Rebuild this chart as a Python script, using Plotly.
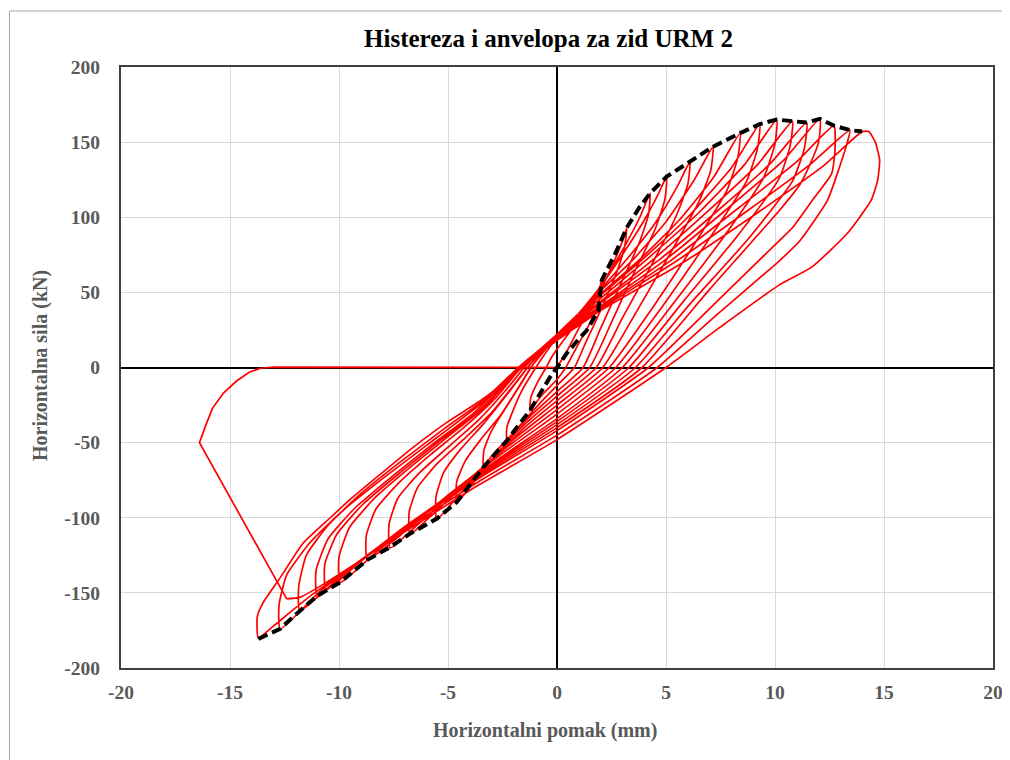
import plotly.graph_objects as go

# ---------------- data ----------------
x_ticks = [-20, -15, -10, -5, 0, 5, 10, 15, 20]
y_ticks = [-200, -150, -100, -50, 0, 50, 100, 150, 200]

# hysteresis cycles (displacement mm, force kN)
c01_x = [0.0, 0.5, 1.0, 1.5, 1.9, 2.05, 2.0, 1.6, 1.0, 0.4, 0.0, -0.6, -1.0, -1.24, -1.2, -0.9, -0.5, -0.2]
c01_y = [0, 12, 26, 38, 50, 58, 48, 32, 16, 0, -8, -17, -24, -29, -20, -10, 0, 8]

c02_x = [0.5, 1.2, 2.0, 2.6, 3.0, 3.2, 3.1, 2.7, 2.0, 1.3, 0.8, 0.0, -0.8, -1.6, -2.1, -2.3, -2.3, -2.0, -1.6, -1.1, -0.7]
c02_y = [22, 35, 52, 70, 84, 93, 80, 62, 38, 16, 0, -12, -24, -37, -45, -49, -40, -28, -15, -3, 6]

c03_x = [0.0, 1.0, 2.0, 3.0, 3.8, 4.27, 4.2, 3.8, 3.0, 2.0, 1.2, 0.0, -1.2, -2.3, -3.0, -3.38, -3.35, -3.0, -2.4, -1.7, -1.1, -0.7]
c03_y = [20, 36, 54, 78, 100, 116, 102, 84, 58, 26, 0, -16, -32, -48, -59, -66, -55, -42, -28, -12, 2, 9]

c04_x = [0.0, 1.0, 2.0, 3.0, 4.0, 4.6, 5.03, 4.95, 4.5, 3.5, 2.5, 1.5, 0.0, -1.5, -2.8, -3.8, -4.6, -4.6, -4.2, -3.5, -2.6, -1.8, -1.2, -0.7]
c04_y = [21, 36, 54, 75, 98, 114, 127, 112, 92, 62, 30, 0, -19, -38, -58, -76, -90, -76, -62, -48, -32, -14, 0, 9]

c05_x = [0.0, 1.0, 2.0, 3.2, 4.5, 5.5, 6.1, 6.0, 5.5, 4.4, 3.0, 1.8, 0.0, -1.5, -3.0, -4.5, -5.52, -5.55, -5.2, -4.4, -3.4, -2.4, -1.5, -0.9]
c05_y = [21, 36, 52, 72, 96, 120, 137, 122, 102, 70, 33, 0, -22, -40, -62, -85, -101, -86, -70, -54, -38, -20, -3, 8]

c06_x = [0.0, 1.0, 2.0, 3.5, 5.0, 6.3, 7.16, 7.05, 6.5, 5.2, 3.6, 2.1, 0.0, -2.0, -4.0, -5.8, -6.74, -6.78, -6.4, -5.5, -4.3, -3.0, -2.0, -1.3, -0.8]
c06_y = [22, 36, 51, 72, 97, 125, 147, 131, 110, 76, 36, 0, -25, -48, -75, -99, -111, -96, -80, -64, -48, -30, -12, 1, 9]

c07_x = [0.0, 1.0, 2.0, 3.8, 5.6, 7.2, 8.4, 8.3, 7.8, 6.3, 4.3, 2.4, 0.0, -2.2, -4.5, -6.5, -7.66, -7.7, -7.3, -6.3, -5.0, -3.6, -2.4, -1.5, -0.9]
c07_y = [22, 35, 49, 72, 98, 127, 156, 140, 118, 82, 38, 0, -28, -52, -80, -106, -120, -104, -87, -70, -53, -35, -16, 0, 9]

c08_x = [0.0, 1.0, 2.0, 4.0, 6.0, 8.0, 9.3, 9.2, 8.7, 7.0, 4.8, 2.7, 0.0, -2.4, -5.0, -7.3, -8.7, -8.75, -8.3, -7.2, -5.8, -4.2, -2.8, -1.7, -1.0]
c08_y = [22, 35, 48, 73, 100, 133, 162, 146, 124, 86, 40, 0, -31, -56, -85, -113, -128, -112, -94, -76, -58, -39, -20, -1, 9]

c09_x = [0.0, 1.0, 2.0, 4.2, 6.5, 8.6, 10.08, 10.0, 9.5, 7.7, 5.3, 3.0, 0.0, -2.6, -5.5, -8.3, -9.95, -10.0, -9.5, -8.3, -6.7, -5.0, -3.3, -2.0, -1.1]
c09_y = [22, 34, 46, 73, 103, 135, 165, 149, 127, 88, 42, 0, -34, -60, -91, -123, -143, -126, -106, -86, -66, -46, -26, -5, 8]

c10_x = [0.0, 1.0, 2.0, 4.5, 7.0, 9.2, 10.8, 10.7, 10.2, 8.3, 5.8, 3.3, 0.0, -2.8, -6.0, -9.0, -10.6, -10.65, -10.1, -8.9, -7.2, -5.4, -3.6, -2.1, -1.2]
c10_y = [21, 33, 44, 73, 105, 135, 164, 148, 126, 88, 44, 0, -36, -63, -96, -129, -148, -131, -111, -91, -70, -49, -29, -7, 7]

c11_x = [0.0, 1.0, 2.0, 4.8, 7.5, 9.8, 11.45, 11.35, 10.8, 8.8, 6.2, 3.6, 0.0, -3.0, -6.3, -9.4, -11.0, -11.05, -10.5, -9.3, -7.6, -5.7, -3.8, -2.2, -1.2]
c11_y = [21, 32, 43, 73, 106, 136, 163, 146, 124, 86, 44, 0, -38, -66, -99, -133, -152, -135, -114, -94, -73, -51, -30, -7, 7]

c12_x = [0.0, 1.0, 2.0, 5.0, 8.0, 10.4, 12.06, 12.0, 11.6, 11.15, 10.2, 7.0, 3.9, 0.0, -3.2, -6.8, -10.0, -11.8, -11.85, -11.5, -10.5, -9.0, -7.2, -5.2, -3.3, -2.0, -1.2]
c12_y = [20, 31, 41, 72, 108, 138, 165.5, 150, 135, 122, 104.5, 52, 0, -40, -69, -104, -140, -162, -146, -125, -105, -84, -63, -41, -21, -3, 7]

c13_x = [0.0, 1.0, 2.0, 5.2, 8.4, 11.0, 12.7, 12.75, 12.6, 11.7, 10.8, 10.2, 7.2, 4.2, 0.0, -3.4, -7.2, -10.8, -12.7, -12.75, -12.4, -11.3, -9.8, -8.0, -6.0, -4.0, -2.4, -1.4]
c13_y = [19, 30, 40, 71, 107, 137, 161, 144, 129, 111, 93, 84.5, 42, 0, -42, -72, -109, -148, -174, -158, -138, -116, -95, -74, -52, -30, -11, 4]

c14_x = [0.0, 1.0, 2.0, 5.5, 8.8, 11.6, 13.44, 13.3, 12.95, 12.4, 11.15, 10.2, 7.4, 4.6, 0.0, -3.6, -7.6, -11.4, -13.0, -13.7, -13.75, -13.5, -12.7, -11.65, -10.4, -9.5, -8.1, -6.5, -5.0, -3.5, -2.0, -1.2]
c14_y = [19, 29, 39, 71, 105, 135, 158, 149, 133, 111, 84.5, 71, 36, 0, -45, -76, -114, -153, -172, -180, -166, -157, -140, -117, -100, -88, -71, -52, -36, -22, -5, 5]

c15_x = [0.0, 1.0, 2.0, 5.8, 9.2, 12.2, 14.0, 14.3, 14.6, 14.8, 14.7, 14.4, 13.3, 11.7, 10.2, 7.5, 5.0, 0.0, -3.8, -7.8, -10.8, -11.8, -12.4]
c15_y = [18, 28, 38, 70, 103, 134, 157, 157, 150, 138, 124, 111, 89, 67, 55, 27, 0, -48, -80, -117, -145, -153, -154]

# final failure / unloading branch
fail_x = [-12.4, -16.4, -16.1, -15.8, -15.3, -14.7, -14.1, -13.6, -13.0, -6.0, 0.0]
fail_y = [-154, -50, -38, -27, -17, -9, -3, -0.5, 0.3, 0.3, 0.0]

# envelope (anvelopa)
env_x = [-13.7, -12.7, -11.8, -11.0, -9.95, -8.7, -7.66, -6.74, -5.52, -4.6, -3.38, -2.3, -1.24,
         -0.78, -0.32, 0.0, 0.44, 1.06, 1.36, 1.9, 2.05, 2.74, 3.2, 3.8, 4.27, 5.03, 6.1, 7.16,
         8.4, 9.3, 10.08, 10.8, 11.45, 12.06, 12.7, 13.44, 14.0]
env_y = [-180.6, -174, -162, -152, -143, -128, -119.6, -110.6, -100.7, -89.6, -66.4, -48.6, -28.6,
         -17.5, -6.4, 0, 9.3, 20, 24.6, 38, 58, 78, 93, 107, 116, 127, 137, 147,
         156, 162, 165, 164, 163, 165.5, 161, 158, 157]

# ---------------- figure ----------------
cycles_x = [c01_x, c02_x, c03_x, c04_x, c05_x, c06_x, c07_x, c08_x, c09_x, c10_x, c11_x, c12_x, c13_x, c14_x, c15_x]
cycles_y = [c01_y, c02_y, c03_y, c04_y, c05_y, c06_y, c07_y, c08_y, c09_y, c10_y, c11_y, c12_y, c13_y, c14_y, c15_y]
hx, hy = [], []
for cx, cy in zip(cycles_x, cycles_y):
    hx += cx
    hy += cy

SERIF = "Liberation Serif, Times New Roman, serif"
RED = "#ff0000"

fig = go.Figure()
fig.add_trace(go.Scatter(x=hx, y=hy, mode="lines",
                         line=dict(color=RED, width=1.7, shape="spline", smoothing=0.5),
                         hoverinfo="skip", showlegend=False))
fig.add_trace(go.Scatter(x=fail_x, y=fail_y, mode="lines",
                         line=dict(color=RED, width=1.7),
                         hoverinfo="skip", showlegend=False))
fig.add_trace(go.Scatter(x=env_x, y=env_y, mode="lines",
                         line=dict(color="black", width=4, dash="10px,5px"),
                         hoverinfo="skip", showlegend=False))

# page body has an 8px margin: work in screen pixels, shift by OFF
OFF = 8
W, H = 1010 - OFF, 760 - OFF
PL, PR, PT, PB = 121, 993, 67, 668          # plot area in screen pixels
L, T = PL - OFF, PT - OFF
R, B = W - (PR - OFF), H - (PB - OFF)


def px(sx):
    return (sx - PL) / (PR - PL)


def py(sy):
    return (PB - sy) / (PB - PT)


tickfont = dict(family=SERIF, size=19.5, color="#595959", weight="bold")
axis_common = dict(showgrid=True, gridcolor="#d9d9d9", gridwidth=1,
                   zeroline=True, zerolinecolor="black", zerolinewidth=2,
                   showline=True, linecolor="#404040", linewidth=2, mirror=True,
                   ticks="", tickfont=tickfont, fixedrange=True)

fig.update_layout(
    width=W, height=H,
    margin=dict(l=L, r=R, t=T, b=B, autoexpand=False),
    paper_bgcolor="white", plot_bgcolor="white",
    title=dict(text="Histereza i anvelopa za zid URM 2",
               font=dict(family=SERIF, size=25, color="black", weight="bold"),
               xref="container", x=(548.5 - OFF) / W, xanchor="center",
               yref="container", y=1 - (38 - OFF) / H, yanchor="middle"),
    xaxis=dict(range=[-20, 20], tickvals=x_ticks, ticktext=[str(v) for v in x_ticks],
               ticklabelstandoff=6, **axis_common),
    yaxis=dict(range=[-200, 200], tickvals=y_ticks, ticktext=[str(v) for v in y_ticks],
               ticklabelstandoff=15, **axis_common),
    annotations=[
        dict(text="Horizontalni pomak (mm)", xref="paper", yref="paper",
             x=px(545), y=py(730), xanchor="center", yanchor="middle",
             showarrow=False, font=dict(family=SERIF, size=20, color="#595959", weight="bold")),
        dict(text="Horizontalna sila (kN)", xref="paper", yref="paper",
             x=px(40), y=py(366), xanchor="center", yanchor="middle",
             textangle=-90, showarrow=False,
             font=dict(family=SERIF, size=20, color="#595959", weight="bold")),
    ],
    shapes=[dict(type="rect", xref="paper", yref="paper",
                 x0=px(9.5), x1=px(1016), y0=py(775), y1=py(11),
                 line=dict(color="#a6a6a6", width=1), fillcolor="rgba(0,0,0,0)")],
)

fig.write_html("out.html")
